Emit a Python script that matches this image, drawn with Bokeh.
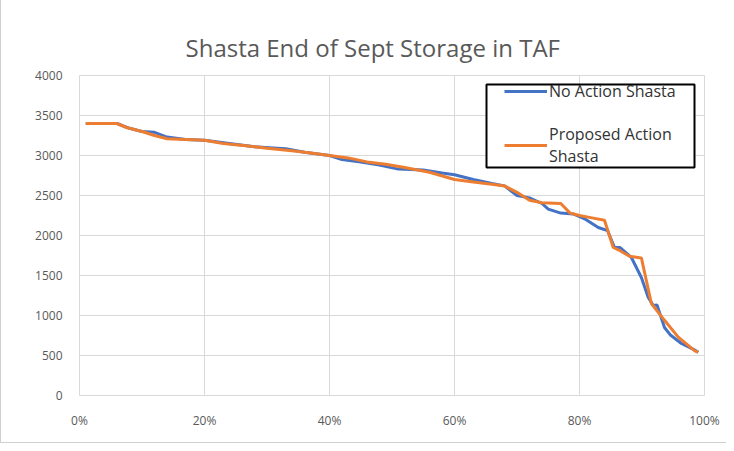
from bokeh.plotting import figure
from bokeh.models import (ColumnDataSource, Legend, LegendItem, FixedTicker,
                          NumeralTickFormatter, Title, BoxAnnotation)
from bokeh.embed import file_html
from bokeh.resources import INLINE

# Exceedance probability (%) and storage (TAF)
no_action_pct = [1, 6, 8, 10, 12, 14, 17, 20, 24, 28, 31, 33, 36, 40, 42, 45,
                 48, 51, 55, 58, 60, 63, 66, 68, 70, 72, 74, 75, 77, 79, 81, 83,
                 84.5, 85.6, 86.5, 88.3, 89.9, 91, 91.8, 92.4, 93.6, 94.5, 96.3,
                 98.4, 99]
no_action_taf = [3400, 3400, 3340, 3300, 3290, 3230, 3200, 3190, 3150, 3110,
                 3095, 3085, 3040, 3000, 2950, 2920, 2880, 2830, 2820, 2780,
                 2760, 2700, 2650, 2620, 2500, 2470, 2400, 2330, 2280, 2270,
                 2200, 2100, 2060, 1850, 1850, 1725, 1475, 1225, 1125, 1130,
                 850, 760, 650, 570, 540]

proposed_pct = [1, 6, 7.5, 10, 12, 14, 17, 20, 23, 27, 30, 34, 37, 40, 43, 46,
                49, 52, 56, 60, 63, 66, 68, 70, 72, 74, 77, 78.5, 80, 82, 84,
                85.4, 86.5, 88, 89.9, 91.5, 93.6, 95.8, 98.4, 99]
proposed_taf = [3400, 3400, 3350, 3300, 3250, 3210, 3200, 3190, 3150, 3120,
                3090, 3060, 3030, 3000, 2970, 2920, 2890, 2850, 2790, 2700,
                2670, 2640, 2620, 2540, 2440, 2410, 2400, 2280, 2250, 2220,
                2190, 1850, 1810, 1740, 1720, 1150, 940, 730, 560, 540]

x_ticks = [0, 0.2, 0.4, 0.6, 0.8, 1.0]
y_ticks = [0, 500, 1000, 1500, 2000, 2500, 3000, 3500, 4000]

title_text = "Shasta End of Sept Storage in TAF"
label_no_action = "No Action Shasta"
label_proposed = "Proposed Action\nShasta"

FONT = "Open Sans"
GRAY = "#595959"

src_na = ColumnDataSource(dict(x=[v / 100 for v in no_action_pct], y=no_action_taf))
src_pa = ColumnDataSource(dict(x=[v / 100 for v in proposed_pct], y=proposed_taf))

p = figure(width=726, height=443, output_backend="svg", toolbar_location=None,
           x_range=(0, 1), y_range=(0, 4000),
           min_border_left=78, min_border_right=23, min_border_top=75,
           min_border_bottom=48)

t = Title(text=title_text, text_font=FONT, text_font_size="24px",
          text_font_style="normal", text_color=GRAY, align="left",
          offset=106, standoff=23)
p.add_layout(t, "above")

p.outline_line_color = "#d9d9d9"
p.outline_line_width = 1
p.background_fill_color = "white"
p.border_fill_color = "white"

for ax in (p.xaxis[0], p.yaxis[0]):
    ax.axis_line_color = None
    ax.major_tick_line_color = None
    ax.minor_tick_line_color = None
    ax.major_label_text_font = FONT
    ax.major_label_text_font_size = "12px"
    ax.major_label_text_color = GRAY

p.xaxis[0].ticker = FixedTicker(ticks=x_ticks)
p.xaxis[0].formatter = NumeralTickFormatter(format="0%")
p.xaxis[0].major_label_standoff = 10
p.yaxis[0].ticker = FixedTicker(ticks=y_ticks)
p.yaxis[0].major_label_standoff = 11

p.xgrid[0].ticker = FixedTicker(ticks=x_ticks)
p.ygrid[0].ticker = FixedTicker(ticks=y_ticks)
p.xgrid.grid_line_color = "#d9d9d9"
p.ygrid.grid_line_color = "#d9d9d9"

r_na = p.line("x", "y", source=src_na, line_color="#4472C4", line_width=3)
r_pa = p.line("x", "y", source=src_pa, line_color="#ED7D31", line_width=3)

# legend frame (box in data space of the plot area)
box = BoxAnnotation(left=0.6512, right=0.984, top=3887, bottom=2850,
                    fill_color="white", fill_alpha=1,
                    line_color="black", line_width=2, line_alpha=1)
p.add_layout(box)

legend = Legend(items=[LegendItem(label=label_no_action, renderers=[r_na]),
                       LegendItem(label=label_proposed, renderers=[r_pa])],
                location=(425, 228), orientation="vertical",
                border_line_color=None,
                background_fill_alpha=0,
                label_text_font=FONT, label_text_font_size="16px",
                label_text_color="#333333", glyph_width=43, glyph_height=16,
                label_height=16, label_standoff=2, spacing=21, padding=2,
                margin=0)
p.add_layout(legend, "center")

p.styles = {"border-left": "1px solid #d0d0d0", "border-bottom": "1px solid #d0d0d0"}

open("out.html", "w").write(file_html(p, INLINE))
